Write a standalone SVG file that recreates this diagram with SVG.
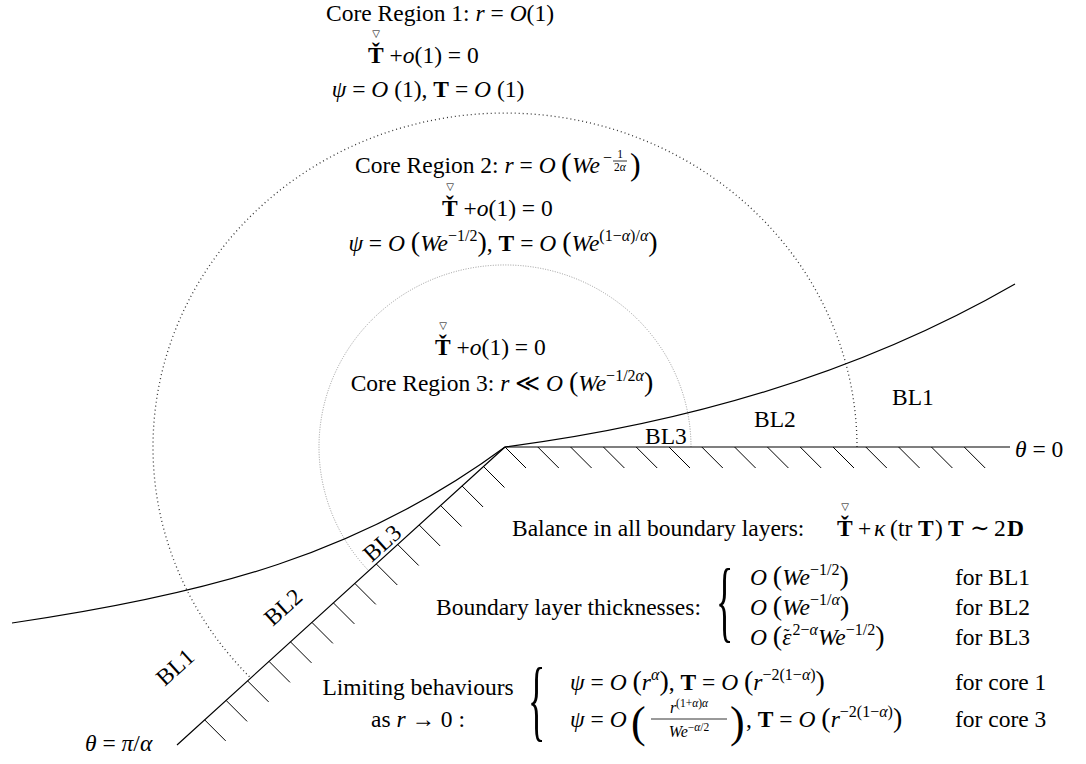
<svg xmlns="http://www.w3.org/2000/svg" width="1086" height="764" viewBox="0 0 1086 764">
<style>
.t{font-family:"Liberation Serif","DejaVu Serif",serif;font-size:23.5px;fill:#000}
.i{font-style:italic}
.b{font-weight:bold}
.sp{font-size:16px}
.ss{font-size:11.5px}
.bp{font-size:28px}
.bq{font-size:32px}
.bh{font-size:44px}
.tri{font-family:"DejaVu Sans",sans-serif;font-size:10px;fill:#000}
.wall{stroke:#000;stroke-width:1.2;fill:none}
.hatch{stroke:#000;stroke-width:1}
.arcO{stroke:#333;stroke-width:1.3;stroke-dasharray:1 3;fill:none}
.arcI{stroke:#999;stroke-width:1;stroke-dasharray:1 1.5;fill:none}
</style>
<rect width="1086" height="764" fill="#fff"/>

<g id="regions">
<path class="arcO" d="M857,447 A352 334 0 1 0 250.5,677.8"/>
<path class="arcI" d="M691,447 A186 182 0 1 0 368.7,570.8"/>
</g>

<g id="walls">
<path class="wall" d="M505,447 H1010 M505,447 L177,745"/>
<path class="wall" d="M12,623 C210,594 360,554 505,447 C751,415 911,344 1015,284"/>
<g class="hatch">
<line x1="505" y1="447" x2="526" y2="468"/>
<line x1="537.8" y1="447" x2="558.8" y2="468"/>
<line x1="570.6" y1="447" x2="591.6" y2="468"/>
<line x1="603.4" y1="447" x2="624.4" y2="468"/>
<line x1="636.2" y1="447" x2="657.2" y2="468"/>
<line x1="669" y1="447" x2="690" y2="468"/>
<line x1="701.8" y1="447" x2="722.8" y2="468"/>
<line x1="734.6" y1="447" x2="755.6" y2="468"/>
<line x1="767.4" y1="447" x2="788.4" y2="468"/>
<line x1="800.2" y1="447" x2="821.2" y2="468"/>
<line x1="833" y1="447" x2="854" y2="468"/>
<line x1="865.8" y1="447" x2="886.8" y2="468"/>
<line x1="898.6" y1="447" x2="919.6" y2="468"/>
<line x1="931.4" y1="447" x2="952.4" y2="468"/>
<line x1="964.2" y1="447" x2="985.2" y2="468"/>
<line x1="483.5" y1="466.5" x2="504.5" y2="487.5"/>
<line x1="462.1" y1="486" x2="483.1" y2="507"/>
<line x1="440.6" y1="505.5" x2="461.6" y2="526.5"/>
<line x1="419.2" y1="525" x2="440.2" y2="546"/>
<line x1="397.7" y1="544.5" x2="418.7" y2="565.5"/>
<line x1="376.3" y1="564" x2="397.3" y2="585"/>
<line x1="354.8" y1="583.4" x2="375.8" y2="604.4"/>
<line x1="333.4" y1="602.9" x2="354.4" y2="623.9"/>
<line x1="311.9" y1="622.4" x2="332.9" y2="643.4"/>
<line x1="290.5" y1="641.9" x2="311.5" y2="662.9"/>
<line x1="269" y1="661.4" x2="290" y2="682.4"/>
<line x1="247.6" y1="680.9" x2="268.6" y2="701.9"/>
<line x1="226.1" y1="700.4" x2="247.1" y2="721.4"/>
<line x1="204.7" y1="719.9" x2="225.7" y2="740.9"/>
</g>
</g>

<g id="core1">
<text class="t" x="440" y="21" text-anchor="middle">Core Region 1: <tspan class="i">r</tspan> = <tspan class="i">O</tspan>(1)</text>
<text class="tri" x="376" y="37" text-anchor="middle">▽</text>
<text class="t" x="368" y="63"><tspan class="b">Ť</tspan> +<tspan class="i">o</tspan>(1) = 0</text>
<text class="t" x="428" y="97" text-anchor="middle"><tspan class="i">ψ</tspan> = <tspan class="i">O</tspan> (1), <tspan class="b">T</tspan> = <tspan class="i">O</tspan> (1)</text>
</g>

<g id="core2">
<text class="t" x="355" y="173">Core Region 2: <tspan class="i">r</tspan> = <tspan class="i">O</tspan></text>
<text class="t bq" x="561" y="175">(</text>
<text class="t i" x="572" y="173">We</text>
<text class="t sp" x="603" y="163">−</text>
<text class="t ss" x="620" y="158" text-anchor="middle">1</text>
<line x1="613" y1="161" x2="627" y2="161" stroke="#000" stroke-width="0.8"/>
<text class="t ss" x="620" y="171" text-anchor="middle">2<tspan class="i">α</tspan></text>
<text class="t bq" x="630" y="175">)</text>
<text class="tri" x="450" y="190" text-anchor="middle">▽</text>
<text class="t" x="442" y="216"><tspan class="b">Ť</tspan> +<tspan class="i">o</tspan>(1) = 0</text>
<text class="t" x="503" y="251" text-anchor="middle"><tspan class="i">ψ</tspan> = <tspan class="i">O</tspan> <tspan class="bp">(</tspan><tspan class="i">We</tspan><tspan class="sp" dy="-10">−1/2</tspan><tspan class="bp" dy="10">)</tspan>, <tspan class="b">T</tspan> = <tspan class="i">O</tspan> <tspan class="bp">(</tspan><tspan class="i">We</tspan><tspan class="sp" dy="-10">(1−<tspan class="i">α</tspan>)/<tspan class="i">α</tspan></tspan><tspan class="bp" dy="10">)</tspan></text>
</g>

<g id="core3">
<text class="tri" x="443" y="329" text-anchor="middle">▽</text>
<text class="t" x="435" y="355"><tspan class="b">Ť</tspan> +<tspan class="i">o</tspan>(1) = 0</text>
<text class="t" x="502" y="391" text-anchor="middle">Core Region 3: <tspan class="i">r</tspan> ≪ <tspan class="i">O</tspan> <tspan class="bp">(</tspan><tspan class="i">We</tspan><tspan class="sp" dy="-10">−1/2<tspan class="i">α</tspan></tspan><tspan class="bp" dy="10">)</tspan></text>
</g>

<g id="layers">
<text class="t" x="892" y="405">BL1</text>
<text class="t" x="754" y="427">BL2</text>
<text class="t" x="645" y="444">BL3</text>
<text class="t" x="175" y="675" text-anchor="middle" transform="rotate(-42 175 667)">BL1</text>
<text class="t" x="283" y="615" text-anchor="middle" transform="rotate(-42 283 607)">BL2</text>
<text class="t" x="382" y="551" text-anchor="middle" transform="rotate(-42 382 543)">BL3</text>
<text class="t" x="1015" y="457"><tspan class="i">θ</tspan> = 0</text>
<text class="t" x="85" y="751"><tspan class="i">θ</tspan> = <tspan class="i">π</tspan>/<tspan class="i">α</tspan></text>
</g>

<g id="balance">
<text class="t" x="512" y="536">Balance in all boundary layers:</text>
<text class="tri" x="845" y="510" text-anchor="middle">▽</text>
<text class="t" y="536"><tspan class="b" x="837">Ť</tspan><tspan x="858">+</tspan><tspan class="i" x="874">κ</tspan><tspan x="890">(</tspan><tspan x="898">tr</tspan><tspan class="b" x="918">T</tspan><tspan x="935">)</tspan><tspan class="b" x="948">T</tspan><tspan x="970">∼</tspan><tspan x="994">2</tspan><tspan class="b" x="1007">D</tspan></text>
</g>

<g id="thickness">
<text class="t" x="436" y="615">Boundary layer thicknesses:</text>
<text class="t" style="font-size:36px" transform="translate(716,631) scale(1,2.5)">{</text>
<text class="t" x="750" y="585"><tspan class="i">O</tspan> <tspan class="bp">(</tspan><tspan class="i">We</tspan><tspan class="sp" dy="-10">−1/2</tspan><tspan class="bp" dy="10">)</tspan></text>
<text class="t" x="750" y="615"><tspan class="i">O</tspan> <tspan class="bp">(</tspan><tspan class="i">We</tspan><tspan class="sp" dy="-10">−1/<tspan class="i">α</tspan></tspan><tspan class="bp" dy="10">)</tspan></text>
<text class="t" x="750" y="645"><tspan class="i">O</tspan> <tspan class="bp">(</tspan><tspan class="i">ε</tspan><tspan style="font-size:18px" dx="-8" dy="-3">˜</tspan><tspan class="sp" dx="3" dy="-7">2−<tspan class="i">α</tspan></tspan><tspan class="i" dy="10">We</tspan><tspan class="sp" dy="-10">−1/2</tspan><tspan class="bp" dy="10">)</tspan></text>
<text class="t" x="955" y="585">for BL1</text>
<text class="t" x="955" y="615">for BL2</text>
<text class="t" x="955" y="645">for BL3</text>
</g>

<g id="limits">
<text class="t" x="418" y="695" text-anchor="middle">Limiting behaviours</text>
<text class="t" x="418" y="727" text-anchor="middle">as <tspan class="i">r</tspan> → 0 :</text>
<text class="t" style="font-size:36px" transform="translate(528,730) scale(1,2.5)">{</text>
<text class="t" x="570" y="690"><tspan class="i">ψ</tspan> = <tspan class="i">O</tspan> <tspan class="bp">(</tspan><tspan class="i">r</tspan><tspan class="sp i" dy="-10">α</tspan><tspan class="bp" dy="10">)</tspan>, <tspan class="b">T</tspan> = <tspan class="i">O</tspan> <tspan class="bp">(</tspan><tspan class="i">r</tspan><tspan class="sp" dy="-10">−2(1−<tspan class="i">α</tspan>)</tspan><tspan class="bp" dy="10">)</tspan></text>
<text class="t" x="570" y="727"><tspan class="i">ψ</tspan> = <tspan class="i">O</tspan></text>
<text class="t bh" x="631" y="737">(</text>
<text class="t sp" x="689" y="713" text-anchor="middle"><tspan class="i">r</tspan><tspan class="ss" dy="-6">(1+<tspan class="i">α</tspan>)<tspan class="i">α</tspan></tspan></text>
<line x1="651" y1="719" x2="727" y2="719" stroke="#000" stroke-width="0.8"/>
<text class="t sp" x="689" y="737" text-anchor="middle"><tspan class="i">We</tspan><tspan class="ss" dy="-6">−<tspan class="i">α</tspan>/2</tspan></text>
<text class="t bh" x="730" y="737">)</text>
<text class="t" x="746" y="727">, <tspan class="b">T</tspan> = <tspan class="i">O</tspan> <tspan class="bp">(</tspan><tspan class="i">r</tspan><tspan class="sp" dy="-10">−2(1−<tspan class="i">α</tspan>)</tspan><tspan class="bp" dy="10">)</tspan></text>
<text class="t" x="955" y="690">for core 1</text>
<text class="t" x="955" y="727">for core 3</text>
</g>
</svg>
